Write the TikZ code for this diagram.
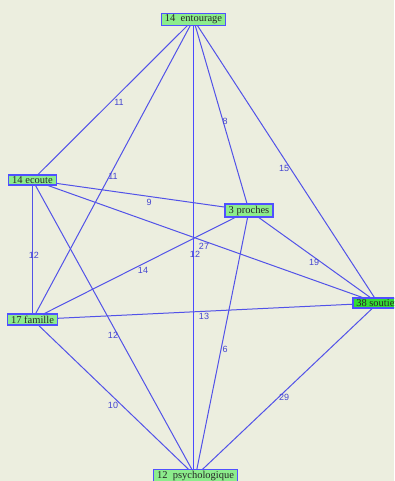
\documentclass[tikz,border=0pt]{standalone}
\usepackage{fontspec}
\setmainfont{Liberation Serif}
\newfontfamily\lblfont{Liberation Sans}
\usetikzlibrary{backgrounds}
\definecolor{bgc}{HTML}{ECEEDF}
\definecolor{edgec}{HTML}{5252E8}
\definecolor{vedgec}{HTML}{4A4AFF}
\definecolor{boxc}{HTML}{5050FF}
\definecolor{fillc}{HTML}{8CEC8C}
\definecolor{fillhot}{HTML}{33DD33}
\definecolor{lblc}{HTML}{4444D0}
\tikzset{
  vertex/.style={draw=boxc, line width=1.5pt, fill=fillc, font=\fontsize{10.5}{11}\selectfont,
    inner xsep=3.5pt, inner ysep=1.6pt, text=black!85},
  hot/.style={vertex, fill=fillhot},
  edge/.style={draw=edgec, line width=1pt},
  vline/.style={draw=vedgec, line width=1.5pt},
  lbl/.style={font=\lblfont\fontsize{9}{10}\selectfont, text=lblc, inner sep=0pt}
}
\begin{document}
\begin{tikzpicture}[x=1pt,y=-1pt]
\useasboundingbox (0,0) rectangle (394,481);
\clip (0,0) rectangle (394,481);

\node[vertex] (E) at (193.5,19.5) {14\ \ entourage};
\node[vertex] (C) at (32.5,180) {14 ecoute};
\node[vertex] (P) at (249,210.5) {3 proches};
\node[vertex] (F) at (32.5,319.5) {17 famille};
\node[hot, anchor=west] (S) at (352,303) {38 soutien};
\node[vertex] (Y) at (195.5,476) {12\ \ psychologique};

\begin{scope}[on background layer]
\fill[bgc] (0,0) rectangle (394,481);
\draw[edge] (E.center) -- (C.center) node[lbl] at (119,102) {11};
\draw[edge] (E.center) -- (F.center) node[lbl] at (113,176) {11};
\draw[vline] (E.center) -- (E.center |- Y.center) node[lbl] at (195,254) {12};
\draw[edge] (E.center) -- (P.center) node[lbl] at (225,121) {8};
\draw[edge] (E.center) -- (S.center) node[lbl] at (284,168) {15};
\draw[edge] (C.center) -- (P.center) node[lbl] at (149,202) {9};
\draw[edge] (C.center) -- (S.center) node[lbl] at (204,246) {27};
\draw[edge] (C.center) -- (F.center) node[lbl] at (34,255) {12};
\draw[edge] (C.center) -- (Y.center) node[lbl] at (113,335) {12};
\draw[edge] (P.center) -- (F.center) node[lbl] at (143,270) {14};
\draw[edge] (P.center) -- (S.center) node[lbl] at (314,262) {19};
\draw[edge] (P.center) -- (Y.center) node[lbl] at (225,349) {6};
\draw[edge] (F.center) -- (S.center) node[lbl] at (204,316) {13};
\draw[edge] (F.center) -- (Y.center) node[lbl] at (113,405) {10};
\draw[edge] (S.center) -- (Y.center) node[lbl] at (284,397) {29};
\end{scope}
\end{tikzpicture}
\end{document}
